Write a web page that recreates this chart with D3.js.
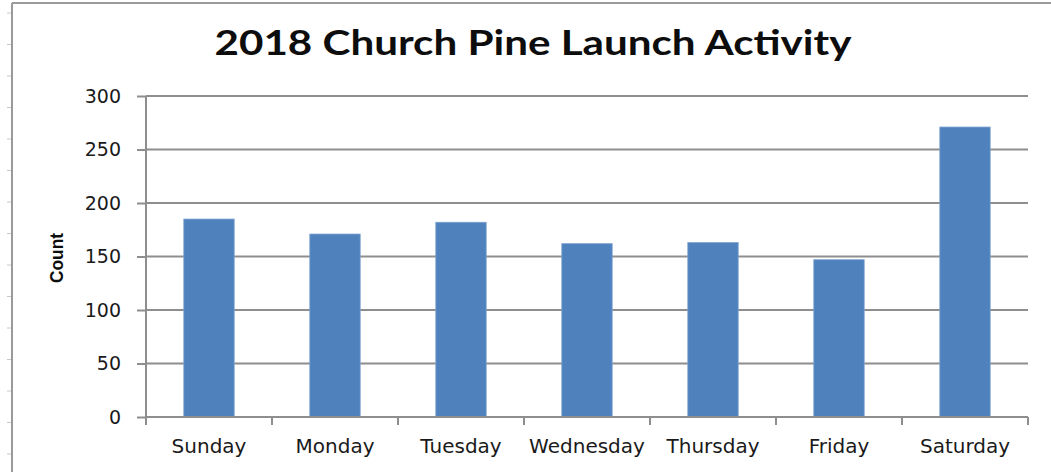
<!DOCTYPE html>
<html>
  <head>
    <meta charset="utf-8">
    <title>2018 Church Pine Launch Activity</title>
    <script src="https://cdn.jsdelivr.net/npm/d3@7/dist/d3.min.js"></script>
    <style>
      body { margin: 0; background: #fff; }
      svg { display: block; }
    </style>
  </head>
  <body>
  </body>
  <script>

    // Chart data
    var days = ["Sunday", "Monday", "Tuesday", "Wednesday", "Thursday", "Friday", "Saturday"];
    var counts = [185, 171, 182, 162, 163, 147, 271];
    var yTicks = [0, 50, 100, 150, 200, 250, 300];
    var chartTitle = "2018 Church Pine Launch Activity";
    var yTitle = "Count";

    var width = 1051, height = 472;
    var plotLeft = 146, plotRight = 1028, plotTop = 96, plotBottom = 417;

    var svg = d3.select("body").append("svg")
                .attr("width", width)
                .attr("height", height);

    // sheet frame around the chart
    svg.append("line").attr("x1", 12).attr("x2", 12).attr("y1", 3).attr("y2", height)
       .attr("stroke", "#9a9a9a").attr("stroke-width", 2);
    svg.append("line").attr("x1", 12).attr("x2", width).attr("y1", 3).attr("y2", 3)
       .attr("stroke", "#9a9a9a").attr("stroke-width", 2);
    var rowMarks = d3.range(13, height, 31.5);
    svg.selectAll("line.row").data(rowMarks).enter().append("line")
       .attr("class", "row")
       .attr("x1", 7).attr("x2", 11)
       .attr("y1", function (d) { return d; }).attr("y2", function (d) { return d; })
       .attr("stroke", "#c8c8c8").attr("stroke-width", 1);

    var x = d3.scaleBand().domain(days).range([plotLeft, plotRight])
              .paddingInner(0.6).paddingOuter(0.3);
    var y = d3.scaleLinear().domain([0, 300]).range([plotBottom, plotTop]);

    // gridlines
    svg.append("g")
       .selectAll("line").data(yTicks.slice(1)).enter().append("line")
       .attr("x1", plotLeft).attr("x2", plotRight)
       .attr("y1", function (d) { return y(d); }).attr("y2", function (d) { return y(d); })
       .attr("stroke", "#8e8e8e").attr("stroke-width", 2);

    // bars
    svg.append("g")
       .selectAll("rect").data(counts).enter().append("rect")
       .attr("x", function (d, i) { return x(days[i]); })
       .attr("y", function (d) { return y(d); })
       .attr("width", x.bandwidth())
       .attr("height", function (d) { return y(0) - y(d); })
       .attr("fill", "#4f81bd")
       .attr("stroke", "#7ea3d0").attr("stroke-width", 0.8);

    // y axis
    var yAxis = svg.append("g")
       .attr("transform", "translate(" + plotLeft + ",0)")
       .call(d3.axisLeft(y).tickValues(yTicks).tickSize(9).tickPadding(16));
    yAxis.select(".domain").attr("stroke", "#8e8e8e").attr("stroke-width", 2)
         .attr("d", "M0," + plotTop + "V" + (plotBottom + 8));
    yAxis.selectAll(".tick line").attr("stroke", "#8e8e8e").attr("stroke-width", 2);
    yAxis.selectAll("text")
         .attr("font-family", "DejaVu Sans, Verdana, sans-serif")
         .attr("font-size", 19).attr("fill", "#1a1a1a");

    // x axis: tick marks sit on category boundaries
    var xAxis = svg.append("g")
       .attr("transform", "translate(0," + plotBottom + ")")
       .call(d3.axisBottom(x).tickSize(0).tickPadding(22));
    xAxis.select(".domain").attr("stroke", "#8e8e8e").attr("stroke-width", 2)
         .attr("d", "M" + plotLeft + ",0H" + plotRight);
    xAxis.selectAll("text")
         .attr("font-family", "DejaVu Sans, Verdana, sans-serif")
         .attr("font-size", 20).attr("fill", "#1a1a1a");
    var bounds = days.map(function (d) { return x(d) - x.step() * x.paddingInner() / 2 + x.step(); });
    xAxis.selectAll("line.bound").data(bounds).enter().append("line")
         .attr("class", "bound")
         .attr("x1", function (d) { return d; }).attr("x2", function (d) { return d; })
         .attr("y1", 0).attr("y2", 8)
         .attr("stroke", "#8e8e8e").attr("stroke-width", 2);

    // titles
    svg.append("text")
       .attr("x", 533).attr("y", 55)
       .attr("text-anchor", "middle")
       .attr("font-family", "Lato, Open Sans, sans-serif")
       .attr("font-weight", "bold")
       .attr("font-size", 35)
       .attr("textLength", 637)
       .attr("lengthAdjust", "spacingAndGlyphs")
       .attr("fill", "#0d0d0d")
       .text(chartTitle);

    svg.append("text")
       .attr("transform", "translate(63,258) rotate(-90)")
       .attr("text-anchor", "middle")
       .attr("font-family", "Liberation Sans Narrow, Liberation Sans, sans-serif")
       .attr("font-weight", "bold")
       .attr("font-size", 19)
       .attr("textLength", 50)
       .attr("lengthAdjust", "spacingAndGlyphs")
       .attr("fill", "#0d0d0d")
       .text(yTitle);

  </script>
</html>
